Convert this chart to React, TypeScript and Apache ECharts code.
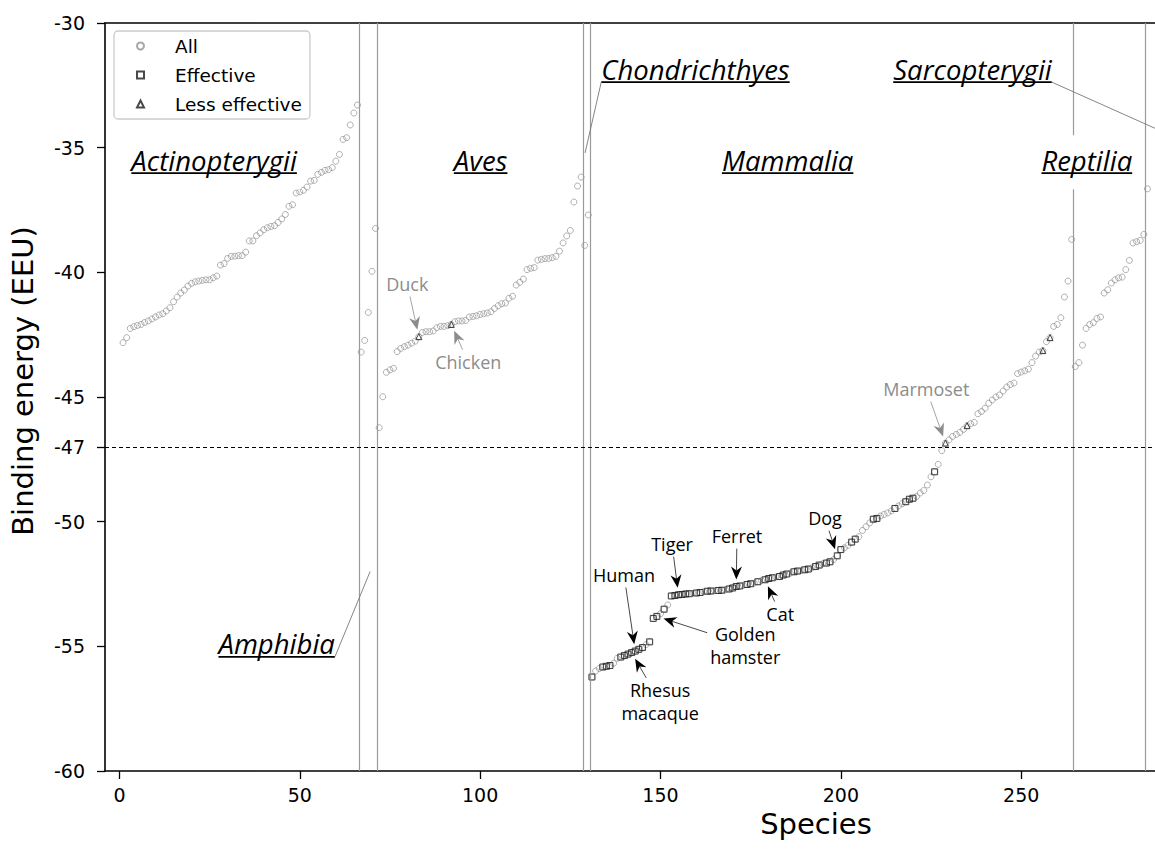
import React, { useEffect, useRef } from "react";
import * as echarts from "echarts";

// ---------------- data (binding energy, EEU) ----------------
const actinopterygii = [
  -42.82, -42.62, -42.25, -42.18, -42.13, -42.09, -42.01, -41.95, -41.87, -41.79,
  -41.71, -41.66, -41.55, -41.42, -41.18, -40.99, -40.83, -40.71, -40.55, -40.44,
  -40.38, -40.35, -40.32, -40.3, -40.3, -40.22, -40.15, -39.71, -39.65, -39.44,
  -39.36, -39.35, -39.33, -39.33, -39.19, -38.74, -38.74, -38.53, -38.42, -38.29,
  -38.21, -38.16, -38.13, -38.0, -37.86, -37.68, -37.35, -37.29, -36.82, -36.77,
  -36.71, -36.58, -36.34, -36.31, -36.07, -35.99, -35.91, -35.88, -35.8, -35.54,
  -35.27, -34.67, -34.6, -34.09, -33.61, -33.29,
];
const amphibia = [-43.2, -42.73, -41.61, -39.96, -38.24];
const aves = [
  -46.23, -44.99, -44.01, -43.91, -43.85, -43.18, -43.05, -42.98, -42.92, -42.84,
  -42.76, -42.58, -42.41, -42.38, -42.38, -42.35, -42.22, -42.17, -42.17, -42.14,
  -42.09, -41.98, -41.95, -41.95, -41.93, -41.79, -41.77, -41.74, -41.69, -41.66,
  -41.63, -41.58, -41.45, -41.34, -41.26, -41.23, -41.04, -40.96, -40.51, -40.4,
  -40.27, -39.89, -39.84, -39.81, -39.51, -39.48, -39.45, -39.44, -39.41, -39.36,
  -39.15, -38.82, -38.54, -38.32, -37.18, -36.54, -36.18,
];
const chondrichthyes = [-38.92, -37.7];
const mammalia = [
  -56.23, -55.99, -55.89, -55.83, -55.8, -55.77, -55.68, -55.48, -55.43, -55.37,
  -55.31, -55.25, -55.19, -55.12, -55.05, -54.93, -54.82,
  -53.88, -53.8, -53.69, -53.51, -53.34,
  -52.98, -52.96, -52.93, -52.92, -52.9, -52.89, -52.87, -52.86, -52.84, -52.81,
  -52.79, -52.78, -52.77, -52.76, -52.75, -52.73, -52.7, -52.66, -52.6, -52.58,
  -52.55, -52.52, -52.49, -52.46, -52.41, -52.36, -52.33, -52.28, -52.25, -52.22,
  -52.2, -52.14, -52.1, -52.06, -52.01, -51.98, -51.96, -51.93, -51.9, -51.85,
  -51.8, -51.74, -51.69, -51.66, -51.61, -51.52, -51.37,
  -51.12, -51.05, -50.95, -50.82, -50.7, -50.6, -50.35, -50.2, -50.05, -49.9,
  -49.87, -49.77, -49.71, -49.65, -49.57, -49.47, -49.37, -49.28, -49.2, -49.1,
  -49.06, -48.99, -48.85, -48.75, -48.53, -48.2, -48.0, -47.7, -47.15,
  -46.85, -46.72, -46.58, -46.5, -46.42, -46.3, -46.15, -46.07, -46.02, -45.67,
  -45.58, -45.45, -45.25, -45.12, -45.0, -44.92, -44.76, -44.6, -44.5, -44.44,
  -44.06, -44.0, -43.95, -43.88, -43.62, -43.36, -43.2, -43.14, -42.78, -42.62,
  -42.17, -42.09, -41.82, -40.99, -40.35, -38.68,
];
const reptilia = [
  -43.78, -43.62, -42.92, -42.25, -42.09, -42.02, -41.85, -41.79, -40.83, -40.7,
  -40.43, -40.3, -40.22, -40.19, -39.89, -39.52, -38.82, -38.77, -38.72, -38.48,
];
const beyondReptilia = [-36.65];

// species numbers (1-based, x position) shown with extra markers
const effectiveSpecies = [
  131, 134, 135, 136, 139, 140, 141, 142, 143, 144, 145, 147, 148, 149, 151, 153,
  154, 155, 156, 157, 158, 160, 161, 163, 164, 166, 167, 169, 170, 171, 172, 174,
  175, 177, 179, 180, 181, 183, 184, 185, 187, 188, 190, 191, 193, 194, 196, 197,
  199, 200, 203, 204, 209, 210, 215, 218, 219, 220, 226,
];
const lessEffectiveSpecies = [83, 92, 229, 235, 256, 258];

const groupBoundaries = [66.5, 71.5, 128.5, 130.5, 264.5, 284.5];
const bindingThreshold = -47;
const xTickValues = [0, 50, 100, 150, 200, 250];
const yTickValues = [-60, -55, -50, -47, -45, -40, -35, -30];

const allValues = [
  ...actinopterygii, ...amphibia, ...aves, ...chondrichthyes,
  ...mammalia, ...reptilia, ...beyondReptilia,
];
const allPoints = allValues.map((v, i) => [i + 1, v]);
const effectivePoints = effectiveSpecies.map((s) => [s, allValues[s - 1]]);
const lessEffectivePoints = lessEffectiveSpecies.map((s) => [s, allValues[s - 1]]);

// annotations (text centres in data coordinates)
const speciesNotes = [
  { label: "Duck", species: 83, textAt: [79.8, -40.47], muted: true },
  { label: "Chicken", species: 92, textAt: [96.7, -43.6], muted: true },
  { label: "Marmoset", species: 229, textAt: [223.7, -44.68], muted: true },
  { label: "Human", species: 143, textAt: [139.9, -52.14], muted: false },
  { label: "Rhesus\nmacaque", species: 142, textAt: [149.9, -57.23], muted: false },
  { label: "Golden\nhamster", species: 149, textAt: [173.5, -54.95], muted: false },
  { label: "Tiger", species: 155, textAt: [153.2, -50.9], muted: false },
  { label: "Ferret", species: 171, textAt: [171.2, -50.58], muted: false },
  { label: "Cat", species: 179, textAt: [183.2, -53.71], muted: false },
  { label: "Dog", species: 199, textAt: [195.6, -49.86], muted: false },
];
const groupNotes: { name: string; at: number[]; pointTo?: number[] }[] = [
  { name: "Actinopterygii", at: [26.25, -35.5] },
  { name: "Aves", at: [100.14, -35.5] },
  { name: "Mammalia", at: [185.25, -35.5] },
  { name: "Reptilia", at: [268.2, -35.5] },
  { name: "Chondrichthyes", at: [159.7, -31.85], pointTo: [129.1, -35.21] },
  { name: "Sarcopterygii", at: [236.5, -31.85], pointTo: [290, -34.41] },
  { name: "Amphibia", at: [43.6, -54.9], pointTo: [69.5, -52.0] },
];

const TICK_FONT = '"DejaVu Sans", sans-serif';
const NOTE_FONT = '"Open Sans", "Noto Sans", sans-serif';

function buildGraphics(chart: echarts.ECharts) {
  const toPx = (p: number[]) => chart.convertToPixel({ xAxisIndex: 0, yAxisIndex: 0 }, p) as number[];
  const ctx = document.createElement("canvas").getContext("2d")!;
  const measure = (t: string, font: string) => {
    ctx.font = font;
    return ctx.measureText(t).width;
  };
  const els: any[] = [];

  // axis titles
  els.push({
    type: "text", x: 23, y: 381, rotation: Math.PI / 2, z: 100,
    style: { text: "Binding energy (EEU)", fontFamily: TICK_FONT, fontSize: 29, fill: "#000", align: "center", verticalAlign: "middle" },
  });
  els.push({
    type: "text", x: 816, y: 824, z: 100,
    style: { text: "Species", fontFamily: TICK_FONT, fontSize: 29, fill: "#000", align: "center", verticalAlign: "middle" },
  });

  // group labels
  for (const g of groupNotes) {
    const [cx, cy] = toPx(g.at);
    const fs = 27.5;
    const w = measure(g.name, `italic ${fs}px ${NOTE_FONT}`);
    els.push({ type: "rect", z: 90, shape: { x: cx - w / 2 - 4, y: cy - 25, width: w + 8, height: 54 }, style: { fill: "#fff" } });
    els.push({
      type: "text", x: cx, y: cy, z: 101,
      style: { text: g.name, fontFamily: NOTE_FONT, fontStyle: "italic", fontSize: fs, fill: "#000", align: "center", verticalAlign: "middle" },
    });
    const uy = cy + 13;
    els.push({ type: "line", z: 101, shape: { x1: cx - w / 2, y1: uy, x2: cx + w / 2, y2: uy }, style: { stroke: "#000", lineWidth: 1.6 } });
    if (g.pointTo) {
      const [tx, ty] = toPx(g.pointTo);
      const sx = tx < cx ? cx - w / 2 : cx + w / 2;
      els.push({ type: "line", z: 101, shape: { x1: sx, y1: uy, x2: tx, y2: ty }, style: { stroke: "#777", lineWidth: 0.9 } });
    }
  }

  // species annotations with arrows
  for (const n of speciesNotes) {
    const color = n.muted ? "#8c8c8c" : "#000";
    const [cx, cy] = toPx(n.textAt);
    const [px, py] = toPx([n.species, allValues[n.species - 1]]);
    const lines = n.label.split("\n");
    const fs = 18;
    const lh = 23;
    const w = Math.max(...lines.map((l) => measure(l, `${fs}px ${NOTE_FONT}`)));
    const h = lines.length * lh;
    els.push({
      type: "text", x: cx, y: cy, z: 102,
      style: { text: n.label, fontFamily: NOTE_FONT, fontSize: fs, lineHeight: lh, fill: color, align: "center", verticalAlign: "middle" },
    });
    const dx = px - cx;
    const dy = py - cy;
    const len = Math.hypot(dx, dy);
    const ux = dx / len;
    const uy = dy / len;
    const hw = w / 2 + 3;
    const hh = h / 2 + 1;
    const t = Math.min(
      Math.abs(ux) > 1e-6 ? hw / Math.abs(ux) : Infinity,
      Math.abs(uy) > 1e-6 ? hh / Math.abs(uy) : Infinity
    );
    const sx = cx + ux * t;
    const sy = cy + uy * t;
    const tx = px - ux * 7;
    const ty = py - uy * 7;
    const L = 13;
    const W = 5.5;
    const bx = tx - ux * L;
    const by = ty - uy * L;
    const nx = tx - ux * (L - 4);
    const ny = ty - uy * (L - 4);
    els.push({ type: "line", z: 102, shape: { x1: sx, y1: sy, x2: nx, y2: ny }, style: { stroke: n.muted ? "#9a9a9a" : "#333", lineWidth: 0.9 } });
    els.push({
      type: "polygon", z: 103,
      shape: { points: [[tx, ty], [bx - uy * W, by + ux * W], [nx, ny], [bx + uy * W, by - ux * W]] },
      style: { fill: color },
    });
  }
  return els;
}

export default function App() {
  const ref = useRef<HTMLDivElement>(null);
  useEffect(() => {
    if (!ref.current) return;
    const chart = echarts.init(ref.current, null, { renderer: "svg" });
    const axisCommon = { type: "value", min: -4, max: 287.1, splitLine: { show: false } };
    const option: any = {
      animation: false,
      backgroundColor: "#fff",
      grid: { left: 105, top: 23, right: 0, height: 748, show: false },
      legend: {
        left: 114, top: 31, orient: "vertical",
        data: ["All", "Effective", "Less effective"],
        itemWidth: 7, itemHeight: 7, itemGap: 9,
        padding: [5, 8, 5, 22],
        borderColor: "#cccccc", borderWidth: 1.3, borderRadius: 4, backgroundColor: "#fff",
        textStyle: { fontFamily: TICK_FONT, fontSize: 18.5, lineHeight: 20, color: "#000", padding: [0, 0, 0, 26] },
        z: 120,
      },
      xAxis: [
        {
          ...axisCommon,
          axisLine: { show: true, onZero: false, lineStyle: { color: "#000", width: 1.6 } },
          axisTick: { show: true, inside: false, length: 8, customValues: xTickValues, lineStyle: { color: "#000", width: 1.3 } },
          axisLabel: { customValues: xTickValues, fontFamily: TICK_FONT, fontSize: 19, color: "#000", margin: 14 },
        },
        {
          ...axisCommon, position: "top",
          axisLine: { show: true, onZero: false, lineStyle: { color: "#000", width: 1.6 } },
          axisTick: { show: false }, axisLabel: { show: false },
        },
      ],
      yAxis: {
        type: "value", min: -60, max: -30,
        axisLine: { show: true, onZero: false, lineStyle: { color: "#000", width: 1.6 } },
        axisTick: { show: true, inside: false, length: 8, customValues: yTickValues, lineStyle: { color: "#000", width: 1.3 } },
        axisLabel: { customValues: yTickValues, fontFamily: TICK_FONT, fontSize: 19, color: "#000", margin: 20 },
        splitLine: { show: false },
      },
      series: [
        {
          name: "All", type: "scatter", data: allPoints, symbol: "circle", symbolSize: 6,
          itemStyle: { color: "rgba(255,255,255,0)", borderColor: "#919191", borderWidth: 0.9 },
          z: 2,
          markLine: {
            silent: true, symbol: ["none", "none"], label: { show: false },
            data: [
              ...groupBoundaries.map((x) => ({ xAxis: x, lineStyle: { color: "#9a9a9a", width: 1.2, type: "solid" } })),
              { yAxis: bindingThreshold, lineStyle: { color: "#000", width: 1, type: [4, 3] } },
            ],
          },
        },
        {
          name: "Effective", type: "scatter", data: effectivePoints, symbol: "rect", symbolSize: 6,
          itemStyle: { color: "rgba(255,255,255,0)", borderColor: "#1a1a1a", borderWidth: 1 },
          z: 3,
        },
        {
          name: "Less effective", type: "scatter", data: lessEffectivePoints, symbol: "triangle", symbolSize: 6,
          itemStyle: { color: "rgba(255,255,255,0)", borderColor: "#1a1a1a", borderWidth: 1 },
          z: 4,
        },
      ],
    };
    chart.setOption(option);
    chart.setOption({ graphic: buildGraphics(chart) });
    return () => chart.dispose();
  }, []);
  return <div ref={ref} style={{ position: "absolute", left: 0, top: 0, width: 1155, height: 850 }} />;
}
